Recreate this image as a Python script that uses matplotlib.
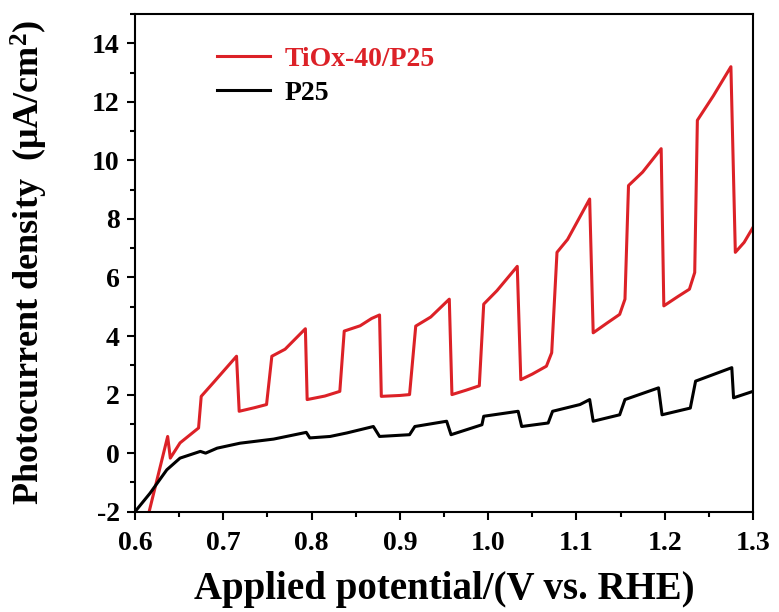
import numpy as np
import matplotlib
matplotlib.use("Agg")
import matplotlib.pyplot as plt
from matplotlib.ticker import MultipleLocator, FormatStrFormatter

# TiOx-40/P25 chopped LSV
v_tiox = [0.616, 0.637, 0.640, 0.651, 0.672, 0.675, 0.690, 0.715, 0.718, 0.735, 0.749,
          0.755, 0.770, 0.793, 0.795, 0.815, 0.832, 0.837, 0.855, 0.868, 0.877, 0.879,
          0.900, 0.911, 0.918, 0.935, 0.956, 0.959, 0.975, 0.990, 0.995, 1.010, 1.033,
          1.037, 1.050, 1.066, 1.072, 1.078, 1.090, 1.115, 1.119, 1.135, 1.149, 1.155,
          1.159, 1.175, 1.196, 1.199, 1.215, 1.228, 1.234, 1.237, 1.255, 1.275, 1.280,
          1.290, 1.300]
j_tiox = [-2.0, 0.57, -0.17, 0.35, 0.86, 1.94, 2.45, 3.31, 1.43, 1.55, 1.66,
          3.31, 3.55, 4.25, 1.83, 1.95, 2.11, 4.17, 4.35, 4.60, 4.72, 1.94,
          1.97, 2.00, 4.34, 4.65, 5.26, 2.00, 2.15, 2.30, 5.09, 5.55, 6.38,
          2.51, 2.70, 2.97, 3.43, 6.86, 7.30, 8.68, 4.11, 4.45, 4.74, 5.26,
          9.14, 9.60, 10.40, 5.03, 5.35, 5.60, 6.17, 11.37, 12.20, 13.20, 6.86,
          7.20, 7.71]

# P25 chopped LSV
v_p25 = [0.600, 0.617, 0.636, 0.651, 0.674, 0.680, 0.693, 0.719, 0.757, 0.794, 0.798,
         0.821, 0.840, 0.870, 0.877, 0.911, 0.917, 0.953, 0.958, 0.993, 0.995, 1.034,
         1.038, 1.068, 1.073, 1.104, 1.115, 1.119, 1.149, 1.155, 1.193, 1.197, 1.229,
         1.235, 1.276, 1.278, 1.300]
j_p25 = [-2.0, -1.37, -0.57, -0.17, 0.06, 0.00, 0.17, 0.34, 0.48, 0.71, 0.52,
         0.57, 0.69, 0.91, 0.57, 0.63, 0.91, 1.09, 0.63, 0.97, 1.26, 1.43,
         0.91, 1.03, 1.43, 1.66, 1.83, 1.09, 1.31, 1.83, 2.23, 1.31, 1.54,
         2.46, 2.92, 1.89, 2.11]

plt.rcParams['font.family'] = ['Liberation Serif', 'DejaVu Serif']
plt.rcParams['font.weight'] = 'bold'
plt.rcParams['axes.unicode_minus'] = False
plt.rcParams['mathtext.fontset'] = 'custom'
plt.rcParams['mathtext.rm'] = 'Liberation Serif:bold'
plt.rcParams['mathtext.default'] = 'rm'

fig = plt.figure(figsize=(7.79, 6.12), dpi=100)
ax = fig.add_axes([0.1733, 0.1639, 0.7933, 0.8132])

ax.plot(v_tiox, j_tiox, color='#dc2127', lw=2.2, label='TiOx-40/P25')
ax.plot(v_p25, j_p25, color='black', lw=2.2, label='P25')

ax.set_xlim(0.6, 1.3)
ax.set_ylim(-2, 15)
ax.xaxis.set_major_locator(MultipleLocator(0.1))
ax.xaxis.set_minor_locator(MultipleLocator(0.05))
ax.xaxis.set_major_formatter(FormatStrFormatter('%.1f'))
ax.yaxis.set_major_locator(MultipleLocator(2))
ax.yaxis.set_minor_locator(MultipleLocator(1))

ax.tick_params(which='both', direction='out', width=1.5, labelsize=20)
ax.tick_params(which='major', length=6, pad=5)
ax.tick_params(axis='x', which='major', pad=8)
ax.tick_params(which='minor', length=3.5)
for s in ax.spines.values():
    s.set_linewidth(1.5)

ax.set_xlabel('Applied potential/(V vs. RHE)', fontsize=28, fontweight='bold', labelpad=11)
ax.set_ylabel('Photocurrent density  (\u03bcA/cm$^2$)', fontsize=26, fontweight='bold',
              labelpad=30)

leg = ax.legend(loc='upper left', bbox_to_anchor=(0.092, 0.985), frameon=False, fontsize=20,
                handlelength=1.9, handletextpad=0.55, labelspacing=0.3)
for txt, line in zip(leg.get_texts(), leg.get_lines()):
    txt.set_color(line.get_color())

fig.savefig('out.png', dpi=100)
